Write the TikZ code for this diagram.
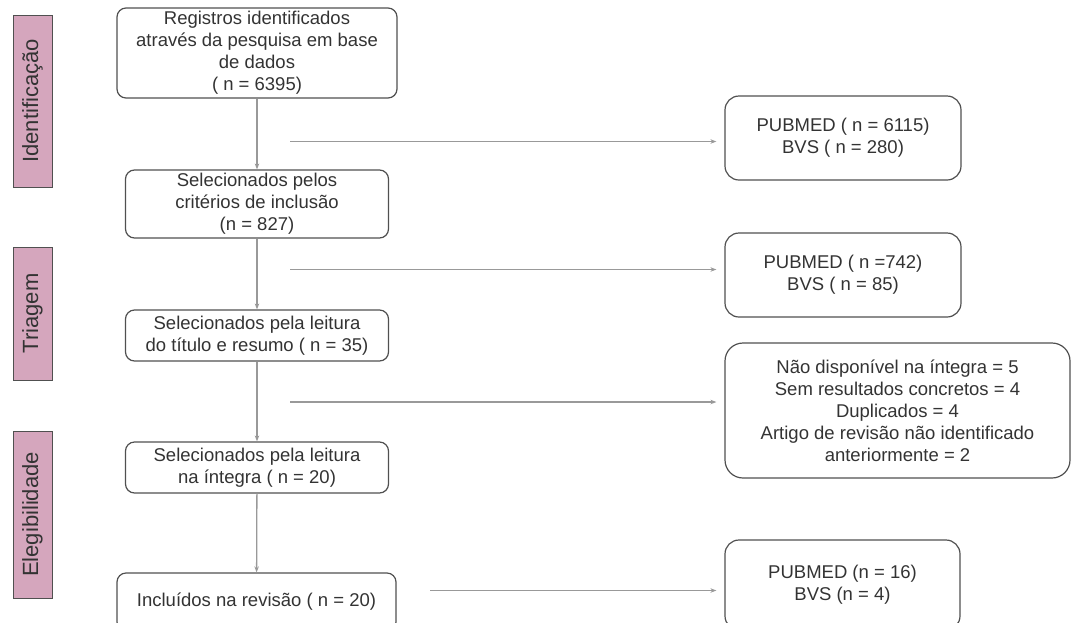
\documentclass[tikz,border=0pt]{standalone}
\usepackage{fontspec}
\setmainfont{Liberation Sans}
\usepackage{xcolor}
\usetikzlibrary{arrows.meta}
\definecolor{rosa}{HTML}{D5A6BD}
\definecolor{borda}{HTML}{505050}
\definecolor{seta}{HTML}{999999}
\definecolor{texto}{HTML}{333333}

\begin{document}
\begin{tikzpicture}[x=1pt,y=-1pt,>={Stealth[length=6pt,width=4.5pt]},
    caixa/.style={draw=borda, line width=1.2pt, rounded corners=9pt, align=center,
        inner sep=0pt, text=texto, font=\fontsize{18.5}{22}\selectfont},
    etapa/.style={draw=borda, fill=rosa, line width=1pt, rotate=90, inner sep=0pt,
        minimum height=39pt, text=texto, font=\fontsize{22}{26}\selectfont},
    fluxo/.style={->, draw=seta, line width=1.3pt}]
            \useasboundingbox (0,0) rectangle (1071,622);
            \clip (0,0) rectangle (1071,622);
            \node [etapa, minimum width=172pt] (ident) at (32.5,101) {Identificação};
            \node [etapa, minimum width=133pt] (triagem) at (32.5,313.5) {Triagem};
            \node [etapa, minimum width=167pt] (eleg) at (32.5,514.5) {Elegibilidade};
            \node [caixa, minimum width=280pt, minimum height=90pt] (reg) at (257,53)
                {Registros identificados\\através da pesquisa em base\\de dados\\( n = 6395)};
            \node [caixa, minimum width=263pt, minimum height=68pt] (crit) at (257,204)
                {Selecionados pelos\\critérios de inclusão\\(n = 827)};
            \node [caixa, minimum width=263pt, minimum height=51pt] (titulo) at (257,335.5)
                {Selecionados pela leitura\\do título e resumo ( n = 35)};
            \node [caixa, minimum width=263pt, minimum height=51pt] (integra) at (257,467.5)
                {Selecionados pela leitura\\na íntegra ( n = 20)};
            \node [caixa, minimum width=279pt, minimum height=58pt] (incl) at (256.5,602)
                {Incluídos na revisão ( n = 20)};
            \node [caixa, rounded corners=14pt, minimum width=236pt, minimum height=84pt] (exc1) at (843,138)
                {PUBMED ( n = 6115)\\BVS ( n = 280)};
            \node [caixa, rounded corners=14pt, minimum width=236pt, minimum height=84pt] (exc2) at (843,275)
                {PUBMED ( n =742)\\BVS ( n = 85)};
            \node [caixa, rounded corners=18pt, minimum width=345pt, minimum height=135pt] (exc3) at (897.5,410.5)
                {Não disponível na íntegra = 5\\Sem resultados concretos = 4\\Duplicados = 4\\Artigo de revisão não identificado\\anteriormente = 2};
            \node [caixa, rounded corners=14pt, minimum width=235pt, minimum height=90pt] (fim) at (842.5,585)
                {PUBMED (n = 16)\\BVS (n = 4)};
            \draw [fluxo] (reg) -- (crit);
            \draw [fluxo] (crit) -- (titulo);
            \draw [fluxo] (titulo) -- (integra);
            \draw [fluxo] (integra) -- (incl);
            \coordinate (s1) at (290,141.5);
            \coordinate (s2) at (290,269.5);
            \coordinate (s3) at (290,402);
            \coordinate (s4) at (430,590.5);
            \draw [fluxo, shorten >=8pt] (s1) -- (s1 -| exc1.west);
            \draw [fluxo, shorten >=8pt] (s2) -- (s2 -| exc2.west);
            \draw [fluxo, shorten >=8pt] (s3) -- (s3 -| exc3.west);
            \draw [fluxo, shorten >=8pt] (s4) -- (s4 -| fim.west);
        \end{tikzpicture}
\end{document}
